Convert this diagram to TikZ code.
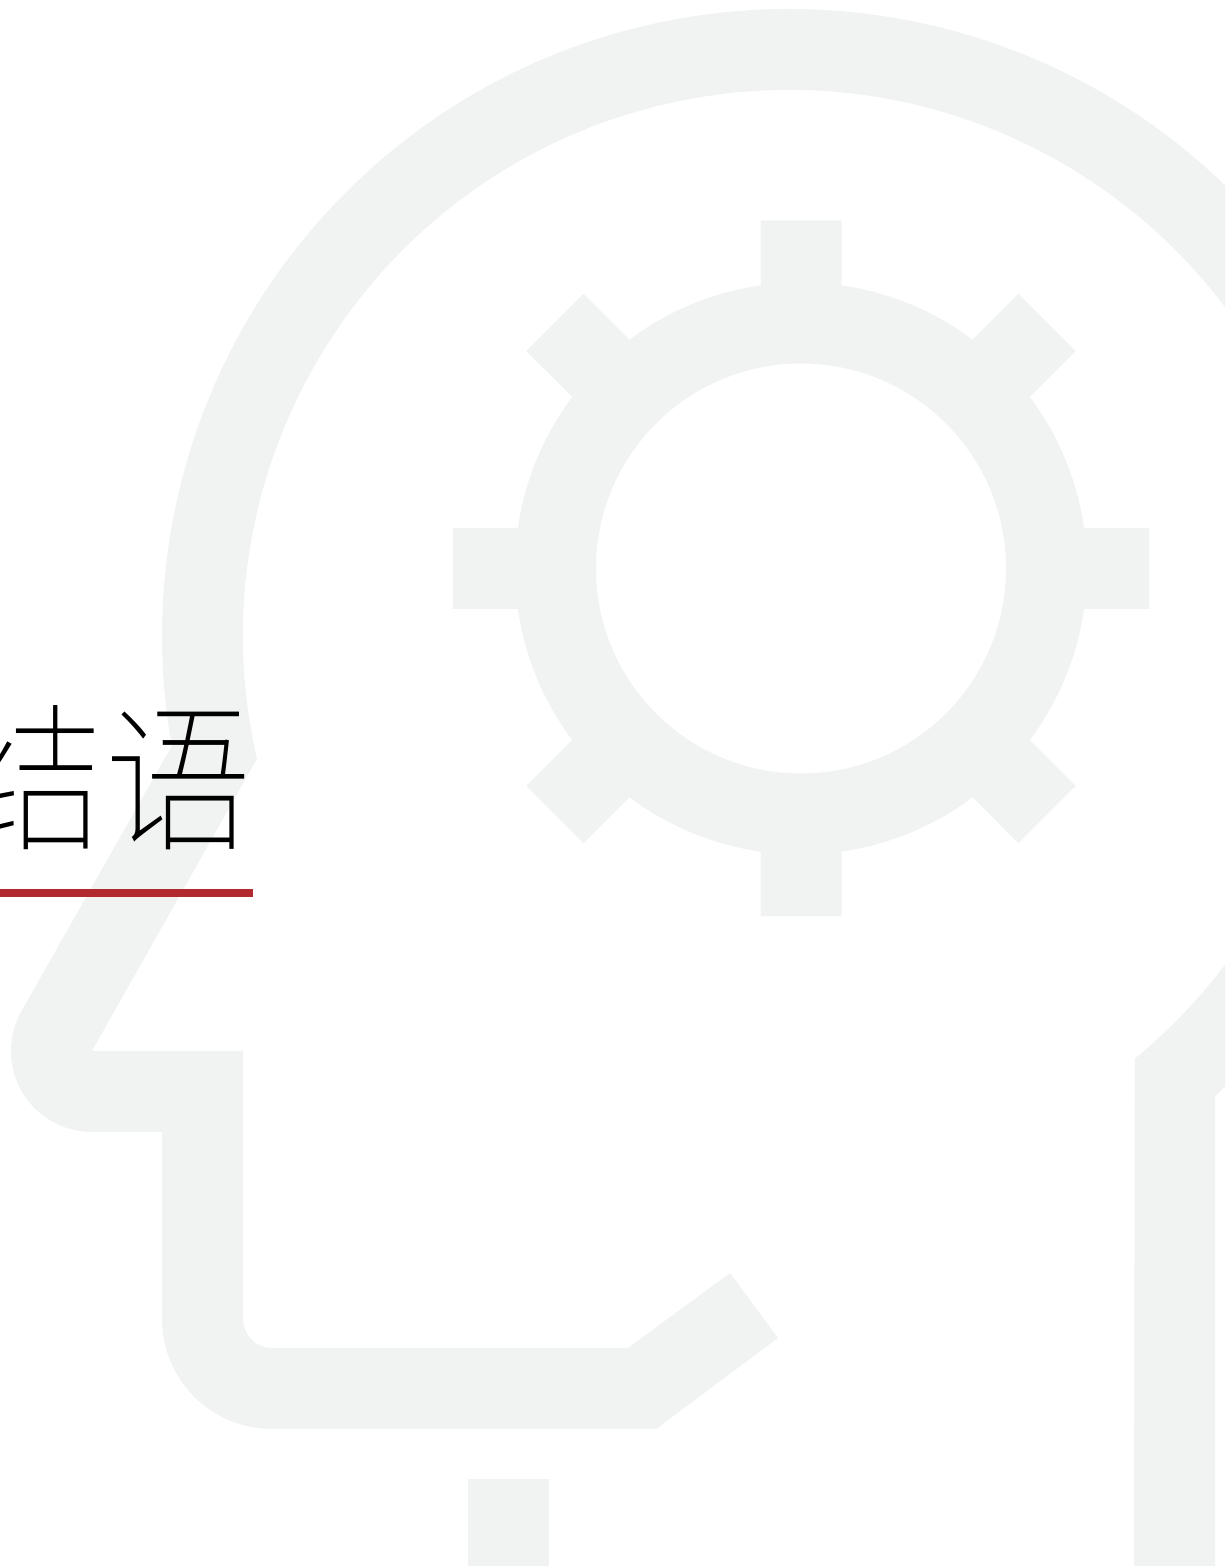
\documentclass[tikz,border=0pt]{standalone}
\usepackage{fontspec}
\newfontfamily\cjk[FakeStretch=0.925]{Noto Sans CJK SC Thin}
\definecolor{headgray}{HTML}{F1F3F2}
\definecolor{rulered}{HTML}{B22A30}
\tikzset{
  iconshape/.style={fill=headgray,draw=none,even odd rule},
  titletext/.style={font=\cjk\fontsize{80pt}{80pt}\selectfont,text=black,inner sep=0pt,anchor=base east},
  titlerule/.style={fill=rulered,draw=none}
}
\begin{document}
\begin{tikzpicture}[x=0.5pt,y=0.5pt]
\useasboundingbox (0,0) rectangle (1225,1566);
\clip (0,0) rectangle (1225,1566);
% head outline
\fill[iconshape]
  (1215,-5) -- ([shift={(789,930)}]-47.2:627)
  arc[start angle=-47.2,end angle=190.1,radius=313.5pt]
  -- ([shift={(92,515)}]150.7:81)
  arc[start angle=150.7,end angle=270,radius=40.5pt]
  -- (162,434) -- (162,247)
  arc[start angle=180,end angle=270,radius=55pt]
  -- (656,137) -- (778,228) -- (730,293) -- (628,218) -- (272,218)
  arc[start angle=270,end angle=180,radius=14.5pt]
  -- (243,515) -- (92,515) -- ([shift={(789,930)}]193:546)
  arc[start angle=193,end angle=-50.7,radius=273pt]
  -- (1134,-5) -- cycle;
% neck mark at the bottom
\fill[iconshape] (468,-5) rectangle (549,87);
% gear
\begin{scope}[shift={(801,997.5)}]
\fill[iconshape]
  (98.14:286)
  \foreach \a in {90,45,0,-45,-90,-135,-180,-225}{
    -- (\a+8.14:286) -- (\a+6.64:350.35) -- (\a-6.64:350.35) -- (\a-8.14:286)
    arc[start angle=\a-8.14,end angle=\a-36.86,radius=143pt]
  }
  -- cycle
  (0,0) circle[radius=102.5pt];
\end{scope}
% title
\node[titletext] (title) at (252.5,727) {结语};
\fill[titlerule] (0,669) rectangle (253,677);
\end{tikzpicture}
\end{document}
